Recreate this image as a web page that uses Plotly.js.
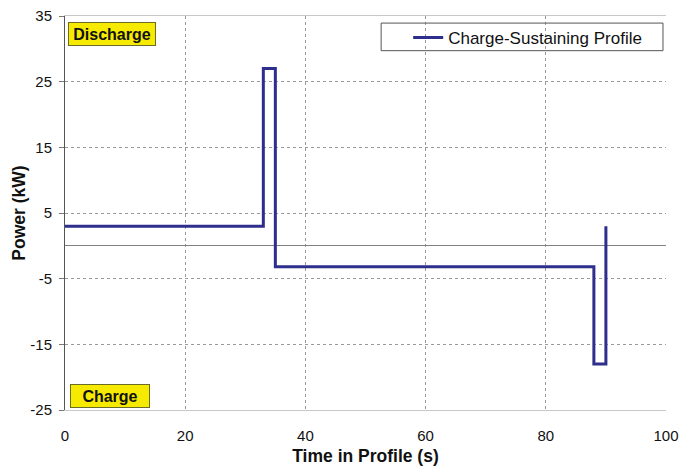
<!DOCTYPE html>
<html>
<head>
<meta charset="utf-8">
<script src="https://cdn.plot.ly/plotly-3.0.1.min.js"></script>
<style>
  html, body { margin: 0; padding: 0; background: #ffffff; }
  #chart { width: 695px; height: 470px; }
</style>
</head>
<body>
<div id="chart"></div>
<script>
// Charge-sustaining power profile (step trace)
const timeS = [0, 33, 33, 35, 35, 88, 88, 90, 90];
const powerKW = [3, 3, 27, 27, -3.2, -3.2, -18, -18, 3];
const seriesName = 'Charge-Sustaining Profile';
const xTicks = [0, 20, 40, 60, 80, 100];
const yTicks = [-25, -15, -5, 5, 15, 25, 35];

const font = 'Arial, "Liberation Sans", sans-serif';

const trace = {
  x: timeS,
  y: powerKW,
  type: 'scatter',
  mode: 'lines',
  name: seriesName,
  line: { color: '#2e2e8c', width: 3 },
  showlegend: true
};

const layout = {
  width: 695,
  height: 470,
  margin: { l: 65, r: 29, t: 16, b: 60 },
  paper_bgcolor: '#ffffff',
  plot_bgcolor: '#ffffff',
  font: { family: font, size: 15, color: '#111111' },
  xaxis: {
    range: [0, 100],
    tickvals: xTicks,
    ticktext: xTicks.map(String),
    ticks: '',
    ticklabelstandoff: 12,
    showgrid: true,
    gridcolor: '#9a9a9a',
    griddash: 'dot',
    gridwidth: 1,
    zeroline: false,
    showline: true,
    linecolor: '#c8c8c8',
    linewidth: 1,
    mirror: true,
    tickfont: { size: 15, color: '#111111' },
    title: { text: '<b>Time in Profile (s)</b>', font: { size: 17.5, color: '#111111' }, standoff: 6 }
  },
  yaxis: {
    range: [-25, 35],
    tickvals: yTicks,
    ticktext: yTicks.map(String),
    ticks: 'outside',
    ticklen: 5,
    tickcolor: '#777777',
    ticklabelstandoff: 4,
    showgrid: true,
    gridcolor: '#9a9a9a',
    griddash: 'dot',
    gridwidth: 1,
    zeroline: true,
    zerolinecolor: '#808080',
    zerolinewidth: 1,
    showline: true,
    linecolor: '#555555',
    linewidth: 1,
    tickfont: { size: 15, color: '#111111' },
    title: { text: '<b>Power (kW)</b>', font: { size: 17.5, color: '#111111' }, standoff: 0 }
  },
  showlegend: true,
  legend: {
    x: 0.571,
    xanchor: 'left',
    y: 0.99,
    yanchor: 'top',
    bgcolor: 'rgba(0,0,0,0)',
    borderwidth: 0,
    font: { size: 17, color: '#111111' }
  },
  shapes: [
    {
      type: 'rect', xref: 'paper', yref: 'paper',
      x0: 0.526, x1: 0.995, y0: 0.912, y1: 0.982,
      line: { color: '#555555', width: 1 },
      fillcolor: 'rgba(0,0,0,0)'
    }
  ],
  annotations: [
    {
      text: '<b>Discharge</b>', xref: 'paper', yref: 'paper',
      x: 0.005, y: 0.985, xanchor: 'left', yanchor: 'top',
      width: 86, height: 22,
      showarrow: false, bgcolor: '#f5ea00', bordercolor: '#6b6b2a',
      borderwidth: 1, borderpad: 0, font: { size: 16, color: '#111111' }
    },
    {
      text: '<b>Charge</b>', xref: 'paper', yref: 'paper',
      x: 0.008, y: 0.004, xanchor: 'left', yanchor: 'bottom',
      width: 78, height: 22,
      showarrow: false, bgcolor: '#f5ea00', bordercolor: '#6b6b2a',
      borderwidth: 1, borderpad: 0, font: { size: 16, color: '#111111' }
    }
  ]
};

Plotly.newPlot('chart', [trace], layout, { displayModeBar: false, staticPlot: true });
</script>
</body>
</html>
